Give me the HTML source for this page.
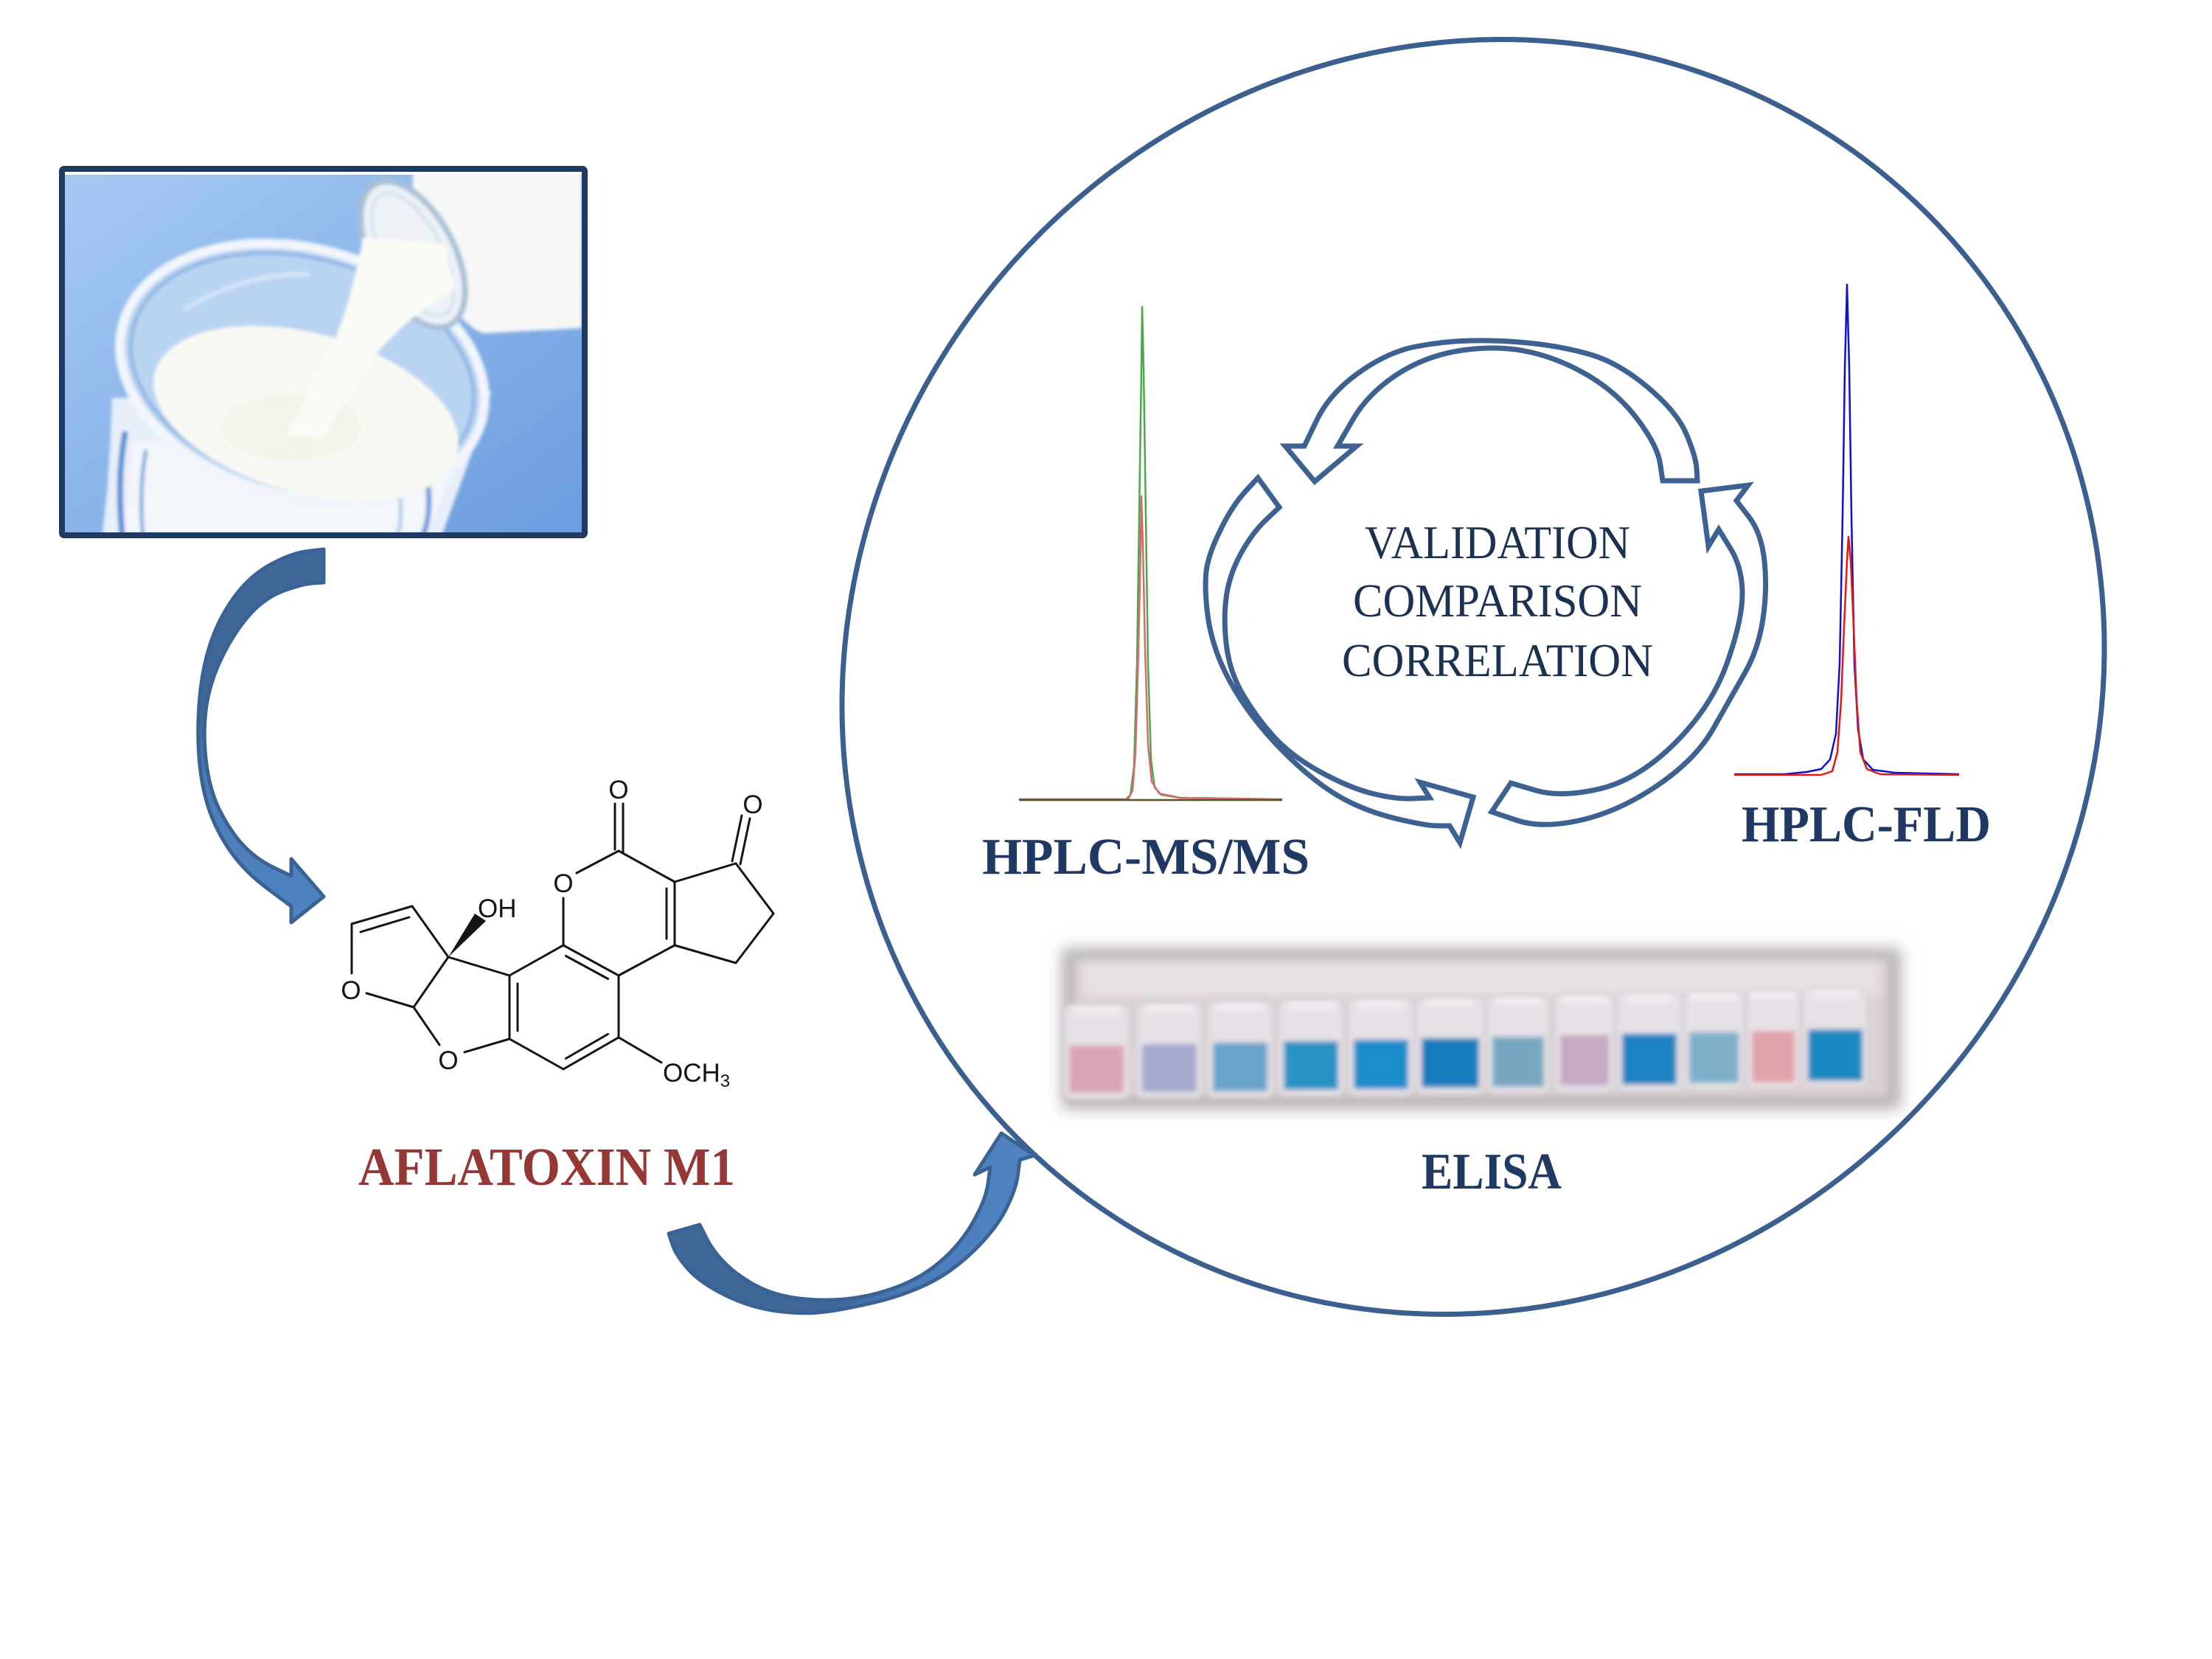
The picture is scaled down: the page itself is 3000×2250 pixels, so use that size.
<!DOCTYPE html>
<html><head><meta charset="utf-8"><style>
html,body{margin:0;padding:0;background:#fff;}
svg{display:block;}
</style></head><body>
<svg width="3000" height="2250" viewBox="0 0 3000 2250" xmlns="http://www.w3.org/2000/svg">
<defs>
  <linearGradient id="bgBlue" x1="0" y1="0" x2="1" y2="1">
    <stop offset="0" stop-color="#a6c9f2"/>
    <stop offset="0.45" stop-color="#8cb6eb"/>
    <stop offset="1" stop-color="#6a9ce0"/>
  </linearGradient>
  <linearGradient id="ag1" gradientUnits="userSpaceOnUse" x1="0" y1="745" x2="0" y2="1250">
    <stop offset="0" stop-color="#3f6798"/>
    <stop offset="0.45" stop-color="#3f6798"/>
    <stop offset="0.62" stop-color="#4b7cb9"/>
    <stop offset="1" stop-color="#5083c2"/>
  </linearGradient>
  <linearGradient id="ag2" gradientUnits="userSpaceOnUse" x1="907" y1="0" x2="1403" y2="0">
    <stop offset="0" stop-color="#3f6798"/>
    <stop offset="0.45" stop-color="#3f6798"/>
    <stop offset="0.65" stop-color="#4b7cb9"/>
    <stop offset="1" stop-color="#5084c2"/>
  </linearGradient>
  <clipPath id="photoClip"><rect x="88" y="233" width="701" height="489"/></clipPath>
  <filter id="blurBig" x="-10%" y="-40%" width="120%" height="180%"><feGaussianBlur stdDeviation="10"/></filter>
  <filter id="blurMid" x="-10%" y="-40%" width="120%" height="180%"><feGaussianBlur stdDeviation="6"/></filter>
  <filter id="blurSm" x="-5%" y="-10%" width="110%" height="120%"><feGaussianBlur stdDeviation="3.5"/></filter>
  <filter id="blurPh" x="-5%" y="-5%" width="110%" height="110%"><feGaussianBlur stdDeviation="2.5"/></filter>
</defs>

<!-- ===== Milk photo ===== -->
<g clip-path="url(#photoClip)">
  <rect x="88" y="233" width="701" height="489" fill="url(#bgBlue)"/>
  <g filter="url(#blurPh)">
    <!-- glass body -->
    <path d="M152,540 C150,610 146,670 138,730 L598,730 C622,660 648,600 666,530 Z" fill="#e8eff9"/>
    <path d="M180,600 C176,650 172,690 168,730 L575,730 C598,680 618,630 636,585 Z" fill="#f3f6fa"/>
    <path d="M170,585 Q158,650 166,728" stroke="#5a8ed3" stroke-width="8" fill="none"/>
    <path d="M198,610 Q188,665 194,728" stroke="#7ba6dd" stroke-width="5" fill="none"/>
    <path d="M575,630 Q590,690 572,730" stroke="#6a9ad8" stroke-width="7" fill="none"/>
    <path d="M540,660 Q548,700 538,730" stroke="#9fc0e8" stroke-width="4" fill="none"/>
    <!-- rim -->
    <ellipse cx="410" cy="505" rx="252" ry="168" transform="rotate(15 410 505)" fill="#b9d3f2" stroke="#f2f6fc" stroke-width="13"/>
    <ellipse cx="410" cy="505" rx="237" ry="155" transform="rotate(15 410 505)" fill="none" stroke="#86afe2" stroke-width="4"/>
    <path d="M250,420 Q330,370 420,372" stroke="#d6e5f7" stroke-width="6" fill="none"/>
    <!-- milk surface -->
    <ellipse cx="415" cy="560" rx="212" ry="108" transform="rotate(15 415 560)" fill="#f9f9f4"/>
    <ellipse cx="395" cy="580" rx="95" ry="45" fill="#f0eee2" opacity="0.6"/>
    <!-- bottle -->
    <path d="M560,233 L789,233 L789,445 L655,452 C625,440 598,400 575,345 C565,310 558,270 560,233 Z" fill="#f6f7f7"/>
    <ellipse cx="560" cy="345" rx="56" ry="108" transform="rotate(-28 560 345)" fill="#edf2f7" stroke="#aabfd6" stroke-width="8"/>
    <ellipse cx="560" cy="345" rx="40" ry="92" transform="rotate(-28 560 345)" fill="none" stroke="#d3dfeb" stroke-width="4"/>
    <path d="M610,245 L789,245 L789,440 L665,445 C645,400 625,320 610,245 Z" fill="#f8f8f7"/>
    <!-- stream -->
    <path d="M492,322 C478,400 458,480 386,590 L440,594 C466,540 492,490 555,435 C585,410 605,400 618,392 L602,330 Z" fill="#fbfbf6"/>
  </g>
  <rect x="88" y="233" width="701" height="4" fill="#ffffff"/>
</g>
<rect x="84" y="229" width="709" height="497" fill="none" stroke="#1f3a60" stroke-width="8" rx="3"/>

<!-- ===== Big circle ===== -->
<ellipse cx="1998" cy="918" rx="840" ry="880" transform="rotate(38.9 1998 918)" fill="none" stroke="#3b5f8e" stroke-width="7"/>

<!-- ===== Chromatograms ===== -->
<g fill="none" stroke-linejoin="round">
  <path d="M1382,1084 L1527,1084 L1533,1078 L1538,1040 L1542,900 L1545,700 L1548,500 L1549,416 L1551,500 L1554,700 L1557,900 L1561,1030 L1566,1068 L1575,1078 L1600,1082 L1739,1084" stroke="#4aa84a" stroke-width="2.5"/>
  <path d="M1382,1084 L1530,1084 L1536,1072 L1540,1020 L1544,880 L1547,740 L1548,673 L1550,740 L1553,880 L1557,1010 L1562,1060 L1572,1076 L1600,1082 L1739,1084" stroke="#d66a6a" stroke-width="2.5"/>
  <path d="M1382,1085 L1739,1085" stroke="#5a4f22" stroke-width="2.5"/>
  <path d="M2352,1050 L2420,1050 L2450,1047 L2470,1043 L2482,1030 L2490,995 L2495,900 L2499,700 L2502,500 L2505,386 L2508,500 L2511,700 L2515,900 L2520,990 L2527,1030 L2540,1044 L2570,1048 L2657,1050" stroke="#1010d0" stroke-width="2.5"/>
  <path d="M2352,1051 L2470,1051 L2485,1046 L2492,1020 L2497,950 L2501,850 L2505,760 L2507,728 L2510,760 L2514,850 L2518,950 L2523,1020 L2532,1043 L2550,1050 L2657,1051" stroke="#e01818" stroke-width="2.5"/>
</g>

<!-- ===== Cycle arrows ===== -->
<g fill="#ffffff" stroke="#3d6190" stroke-width="7" stroke-linejoin="miter">
  <path d="M2255,652 L2251.5,628.5 Q2248,605 2221.5,569.5 Q2195,534 2156,510.5 Q2117,487 2075,477.5 Q2033,468 1983.5,475 Q1934,482 1894.5,508 Q1855,534 1834.5,569.5 L1814,605 L1840,605 L1783,653 L1743,605 L1769,605 L1786,569.5 Q1803,534 1842,506 Q1881,478 1918,470.5 Q1955,463 1994,462 Q2033,461 2076.5,465.5 Q2120,470 2157.5,481 Q2195,492 2234.5,525 Q2274,558 2287,588.5 Q2300,619 2301,635.5 L2302,652 Z"/>
  <path d="M2049,1062 L2083,1072 Q2117,1082 2169,1070 Q2221,1058 2271,1008.5 Q2321,959 2342,900 Q2363,841 2363,805.5 Q2363,770 2347,744 L2331,718 L2317,741 L2307,666 L2371,658 L2355,679 L2372,701 Q2389,723 2393,761 Q2397,799 2391,839.5 Q2385,880 2366.5,912.5 Q2348,945 2324,987.5 Q2300,1030 2247.5,1065.5 Q2195,1101 2143,1112.5 Q2091,1124 2057,1112.5 L2023,1101 Z"/>
  <path d="M1735,688 L1716.5,705.5 Q1698,723 1682.5,751.5 Q1667,780 1663,810.5 Q1659,841 1663.5,876.5 Q1668,912 1686,942.5 Q1704,973 1727.5,999 Q1751,1025 1790,1046.5 Q1829,1068 1860.5,1076 Q1892,1084 1915.5,1083 L1939,1082 L1926,1061 L1998,1081 L1980,1143 L1966,1120 L1950,1120 Q1934,1120 1894.5,1110.5 Q1855,1101 1824,1084.5 Q1793,1068 1759,1037 Q1725,1006 1698.5,971 Q1672,936 1656.5,900.5 Q1641,865 1637,827 Q1633,789 1637,768 Q1641,747 1656.5,716 Q1672,685 1689,666.5 L1706,648 Z"/>
</g>

<!-- ===== Center text ===== -->
<g font-family="'Liberation Serif', serif" font-size="64" fill="#1b3152">
  <text x="1851" y="757" textLength="360" lengthAdjust="spacingAndGlyphs">VALIDATION</text>
  <text x="1835" y="836" textLength="392" lengthAdjust="spacingAndGlyphs">COMPARISON</text>
  <text x="1820" y="917" textLength="422" lengthAdjust="spacingAndGlyphs">CORRELATION</text>
</g>

<!-- ===== Headings ===== -->
<g font-family="'Liberation Serif', serif" font-weight="bold" font-size="70" fill="#1f3864">
  <text x="1332" y="1185" textLength="444" lengthAdjust="spacingAndGlyphs">HPLC-MS/MS</text>
  <text x="2362" y="1141" textLength="338" lengthAdjust="spacingAndGlyphs">HPLC-FLD</text>
  <text x="1928" y="1612" textLength="190" lengthAdjust="spacingAndGlyphs">ELISA</text>
</g>
<text x="486" y="1607" textLength="511" lengthAdjust="spacingAndGlyphs" font-family="'Liberation Serif', serif" font-weight="bold" font-size="73" fill="#953735">AFLATOXIN M1</text>

<!-- ===== ELISA photo ===== -->
<g>
  <rect x="1440" y="1286" width="1138" height="218" fill="#b4afb1" filter="url(#blurBig)"/>
  <rect x="1456" y="1300" width="1106" height="188" fill="#dad1d3" filter="url(#blurMid)"/>
  <rect x="1470" y="1306" width="1080" height="44" fill="#e7e1e2" filter="url(#blurMid)"/>
  <g filter="url(#blurSm)">
    <g stroke="#d2cfd5" stroke-width="2">
      <rect x="1443" y="1362" width="88" height="128" rx="10" fill="#e6e1e6"/>
      <rect x="1542" y="1360" width="88" height="129" rx="10" fill="#e6e1e6"/>
      <rect x="1638" y="1358" width="88" height="130" rx="10" fill="#e6e1e6"/>
      <rect x="1734" y="1356" width="88" height="130" rx="10" fill="#e6e1e6"/>
      <rect x="1829" y="1354" width="88" height="131" rx="10" fill="#e6e1e6"/>
      <rect x="1921" y="1352" width="92" height="131" rx="10" fill="#e6e1e6"/>
      <rect x="2017" y="1350" width="84" height="132" rx="10" fill="#e6e1e6"/>
      <rect x="2109" y="1348" width="80" height="132" rx="10" fill="#e6e1e6"/>
      <rect x="2193" y="1346" width="88" height="133" rx="10" fill="#e6e1e6"/>
      <rect x="2284" y="1344" width="81" height="133" rx="10" fill="#e6e1e6"/>
      <rect x="2369" y="1342" width="72" height="134" rx="10" fill="#e6e1e6"/>
      <rect x="2445" y="1340" width="88" height="134" rx="10" fill="#e6e1e6"/>
    </g>
    <rect x="1450" y="1418" width="74" height="64" fill="#dba3b4"/>
    <rect x="1549" y="1416" width="74" height="65" fill="#a6a9cf"/>
    <rect x="1645" y="1414" width="74" height="66" fill="#6aa3c9"/>
    <rect x="1741" y="1412" width="74" height="66" fill="#2b93c4"/>
    <rect x="1836" y="1410" width="74" height="67" fill="#1a8dcb"/>
    <rect x="1928" y="1408" width="78" height="67" fill="#177dbd"/>
    <rect x="2024" y="1406" width="70" height="68" fill="#78a7c2"/>
    <rect x="2116" y="1404" width="66" height="68" fill="#c6a9c2"/>
    <rect x="2200" y="1402" width="74" height="69" fill="#1c82c2"/>
    <rect x="2291" y="1400" width="67" height="69" fill="#7eb0cb"/>
    <rect x="2376" y="1398" width="58" height="70" fill="#e3a3ad"/>
    <rect x="2452" y="1396" width="74" height="70" fill="#1a88c1"/>
    <g fill="#f4f2f5" opacity="0.8">
      <rect x="1455" y="1365" width="64" height="10" rx="5"/>
      <rect x="1554" y="1363" width="64" height="10" rx="5"/>
      <rect x="1650" y="1361" width="64" height="10" rx="5"/>
      <rect x="1746" y="1359" width="64" height="10" rx="5"/>
      <rect x="1841" y="1357" width="64" height="10" rx="5"/>
      <rect x="1935" y="1355" width="64" height="10" rx="5"/>
      <rect x="2027" y="1353" width="64" height="10" rx="5"/>
      <rect x="2117" y="1351" width="64" height="10" rx="5"/>
      <rect x="2205" y="1349" width="64" height="10" rx="5"/>
      <rect x="2293" y="1347" width="64" height="10" rx="5"/>
      <rect x="2374" y="1345" width="62" height="10" rx="5"/>
      <rect x="2457" y="1343" width="64" height="10" rx="5"/>
    </g>
  </g>
</g>

<!-- ===== Arrow 1 ===== -->
<path d="M439,745 L417.5,747.5 Q396,750 368,765 Q340,780 319,808 Q298,836 286,871 Q274,906 270.5,950 Q267,994 270.5,1032.5 Q274,1071 284.5,1100.5 Q295,1130 314,1156.5 Q333,1183 364,1206 L395,1229 L395,1251 L439,1216 L395,1165 L395,1188 L371,1176.5 Q347,1165 329.5,1146 Q312,1127 298,1099 Q284,1071 279.5,1032.5 Q275,994 279.5,960.5 Q284,927 300,893.5 Q316,860 337,835.5 Q358,811 384,801.5 Q410,792 424.5,791 L439,790 Z" fill="url(#ag1)" stroke="#3a6395" stroke-width="5" stroke-linejoin="round"/>

<!-- ===== Arrow 2 ===== -->
<path d="M907,1673 L912,1688 Q917,1703 933.5,1721.5 Q950,1740 983.5,1756.5 Q1017,1773 1053.5,1778 Q1090,1783 1120,1779 Q1150,1775 1187.5,1766 Q1225,1757 1257.5,1741.5 Q1290,1726 1320,1697 Q1350,1668 1364,1640.5 Q1378,1613 1380.5,1593 L1383,1573 L1403,1567 L1358,1537 L1322,1593 L1343,1583 L1340,1605 Q1337,1627 1320,1657 Q1303,1687 1276.5,1710 Q1250,1733 1216.5,1745.5 Q1183,1758 1150,1761.5 Q1117,1765 1083.5,1761 Q1050,1757 1025,1743.5 Q1000,1730 983.5,1713.5 Q967,1697 958,1679 L949,1661 Z" fill="url(#ag2)" stroke="#3a6395" stroke-width="5" stroke-linejoin="round"/>

<!-- ===== Chemical structure ===== -->
<g stroke="#151515" stroke-width="3" fill="none" stroke-linecap="round">
  <line x1="477" y1="1253" x2="559" y2="1229"/>
  <line x1="489" y1="1264" x2="555" y2="1244"/>
  <line x1="559" y1="1229" x2="608" y2="1298"/>
  <line x1="477" y1="1253" x2="477" y2="1320"/>
  <line x1="497" y1="1347" x2="561" y2="1366"/>
  <line x1="561" y1="1366" x2="608" y2="1298"/>
  <line x1="561" y1="1366" x2="596" y2="1417"/>
  <line x1="630" y1="1427" x2="691" y2="1409"/>
  <line x1="608" y1="1298" x2="691" y2="1323"/>
  <polygon points="691,1323 764,1282 839,1323 839,1407 764,1450 691,1409"/>
  <line x1="702" y1="1334" x2="702" y2="1398"/>
  <line x1="767.5" y1="1296.5" x2="824.5" y2="1327.5"/>
  <line x1="824.5" y1="1402.5" x2="767.5" y2="1435.5"/>
  <line x1="764" y1="1282" x2="764" y2="1218"/>
  <line x1="782" y1="1184" x2="839" y2="1154"/>
  <line x1="834" y1="1090" x2="834" y2="1152"/>
  <line x1="845" y1="1090" x2="845" y2="1157"/>
  <line x1="839" y1="1154" x2="915" y2="1196"/>
  <line x1="915" y1="1196" x2="915" y2="1282"/>
  <line x1="904" y1="1205" x2="904" y2="1273"/>
  <line x1="915" y1="1282" x2="839" y2="1323"/>
  <line x1="915" y1="1196" x2="998" y2="1171"/>
  <line x1="993" y1="1168" x2="1006" y2="1106"/>
  <line x1="1004" y1="1172" x2="1017" y2="1110"/>
  <line x1="998" y1="1171" x2="1049" y2="1239"/>
  <line x1="1049" y1="1239" x2="998" y2="1306"/>
  <line x1="998" y1="1306" x2="915" y2="1282"/>
  <line x1="839" y1="1407" x2="897" y2="1441"/>
</g>
<polygon points="608,1298 644,1239 659,1249" fill="#151515"/>
<g font-family="'Liberation Sans', sans-serif" font-size="35" fill="#151515" text-anchor="middle">
  <text x="476" y="1355">O</text>
  <text x="608" y="1450">O</text>
  <text x="764" y="1210">O</text>
  <text x="839" y="1083">O</text>
  <text x="1021" y="1103">O</text>
</g>
<g font-family="'Liberation Sans', sans-serif" font-size="35" fill="#151515">
  <text x="648" y="1244">OH</text>
  <text x="899" y="1467">OCH<tspan font-size="24" dy="7">3</tspan></text>
</g>
</svg>
</body></html>
